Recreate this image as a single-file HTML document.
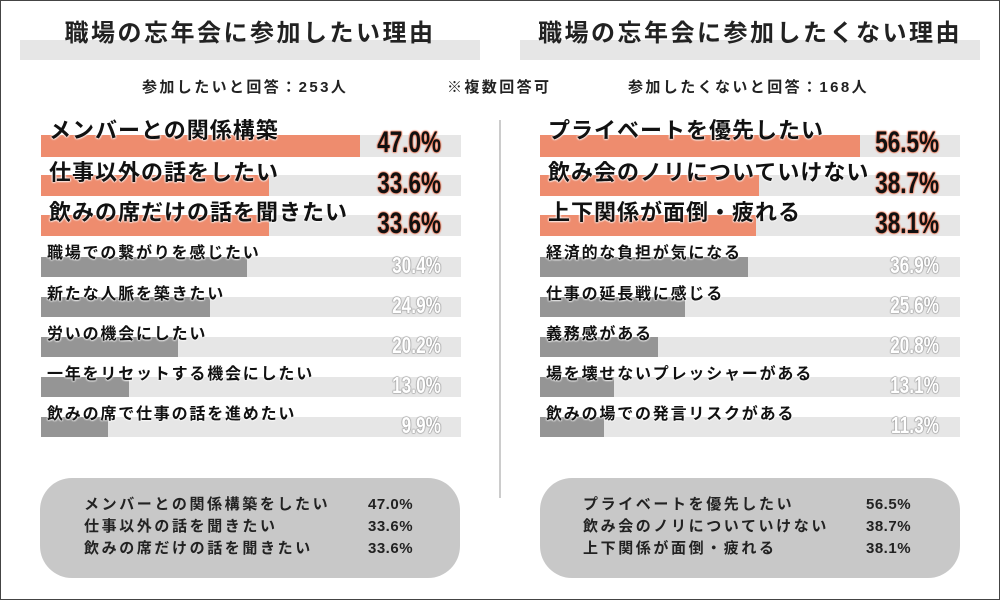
<!DOCTYPE html>
<html><head><meta charset="utf-8"><style>
*{margin:0;padding:0;box-sizing:border-box}
body{width:1000px;height:600px;background:#fff;position:relative;overflow:hidden;font-family:"Liberation Sans","Noto Sans CJK JP",sans-serif;color:#222}
.frame{position:absolute;left:0;top:0;width:1000px;height:600px;border:1px solid #444}
.a{position:absolute;white-space:nowrap}
.tb{position:absolute;height:20px;background:#e6e6e6}
.title{position:absolute;font-size:24px;font-weight:bold;text-align:center;width:460px;letter-spacing:2.5px}
.sub{font-size:15px;font-weight:bold;letter-spacing:2.4px}
.trk{position:absolute;background:#e6e6e6}
.bar{position:absolute}
.or{background:#ee8c6e}
.gr{background:#959595}
.lb{position:absolute;white-space:nowrap;font-weight:bold;color:#111;text-shadow:0 0 2px #fff,0 0 2px #fff,0 0 2px #fff}
.big{font-size:22px;letter-spacing:1px}
.sm{font-size:16px;letter-spacing:1.8px}
.pc{position:absolute;white-space:nowrap;font-family:"Liberation Sans Narrow","Liberation Sans",sans-serif;font-weight:bold;text-align:right;width:120px;transform-origin:right center}
.pb{font-size:30px;color:#111;text-shadow:0 0 2px #ee6a45,0 0 2px #ee6a45,0 0 2px #ee6a45;transform:scaleX(0.75)}
.ps{font-size:23px;color:#fff;text-shadow:0 0 1.5px #999,0 0 1.5px #999,0 0 1.5px #999,0 0 1.5px #999;transform:scaleX(0.75)}
.box{position:absolute;background:#c8c8c8;border-radius:32px}
.bx{position:absolute;font-size:15px;line-height:22px;color:#222;white-space:nowrap;letter-spacing:2.6px;font-weight:bold}
.bn{letter-spacing:0.5px}
</style></head><body>
<div class="frame"></div>

<div class="tb" style="left:20px;top:40px;width:460px"></div>
<div class="tb" style="left:520px;top:40px;width:460px"></div>
<div class="title" style="left:20px;top:13px">職場の忘年会に参加したい理由</div>
<div class="title" style="left:520px;top:13px">職場の忘年会に参加したくない理由</div>
<div class="a sub" style="left:142px;top:76px">参加したいと回答：253人</div>
<div class="a sub" style="left:447px;top:76px">※複数回答可</div>
<div class="a sub" style="left:628px;top:76px">参加したくないと回答：168人</div>

<div style="position:absolute;left:499px;top:120px;width:2px;height:378px;background:#ccc"></div>

<!-- left -->
<div class="trk" style="left:41px;top:135px;width:420px;height:22px"></div><div class="bar or" style="left:41px;top:135px;width:319px;height:22px"></div>
<div class="trk" style="left:41px;top:175px;width:420px;height:21px"></div><div class="bar or" style="left:41px;top:175px;width:228px;height:21px"></div>
<div class="trk" style="left:41px;top:215px;width:420px;height:21px"></div><div class="bar or" style="left:41px;top:215px;width:228px;height:21px"></div>
<div class="trk" style="left:41px;top:257px;width:420px;height:20px"></div><div class="bar gr" style="left:41px;top:257px;width:206px;height:20px"></div>
<div class="trk" style="left:41px;top:297px;width:420px;height:20px"></div><div class="bar gr" style="left:41px;top:297px;width:169px;height:20px"></div>
<div class="trk" style="left:41px;top:337px;width:420px;height:20px"></div><div class="bar gr" style="left:41px;top:337px;width:137px;height:20px"></div>
<div class="trk" style="left:41px;top:377px;width:420px;height:20px"></div><div class="bar gr" style="left:41px;top:377px;width:88px;height:20px"></div>
<div class="trk" style="left:41px;top:417px;width:420px;height:20px"></div><div class="bar gr" style="left:41px;top:417px;width:67px;height:20px"></div>

<div class="lb big" style="left:49px;top:113px">メンバーとの関係構築</div>
<div class="lb big" style="left:49px;top:155px">仕事以外の話をしたい</div>
<div class="lb big" style="left:49px;top:195px">飲みの席だけの話を聞きたい</div>
<div class="lb sm" style="left:47px;top:239px">職場での繋がりを感じたい</div>
<div class="lb sm" style="left:47px;top:280px">新たな人脈を築きたい</div>
<div class="lb sm" style="left:47px;top:320px">労いの機会にしたい</div>
<div class="lb sm" style="left:47px;top:360px">一年をリセットする機会にしたい</div>
<div class="lb sm" style="left:47px;top:400px">飲みの席で仕事の話を進めたい</div>

<div class="pc pb" style="left:321px;top:126px">47.0%</div>
<div class="pc pb" style="left:321px;top:167px">33.6%</div>
<div class="pc pb" style="left:321px;top:207px">33.6%</div>
<div class="pc ps" style="left:321px;top:252px">30.4%</div>
<div class="pc ps" style="left:321px;top:292px">24.9%</div>
<div class="pc ps" style="left:321px;top:332px">20.2%</div>
<div class="pc ps" style="left:321px;top:372px">13.0%</div>
<div class="pc ps" style="left:321px;top:412px">9.9%</div>

<!-- right -->
<div class="trk" style="left:540px;top:135px;width:420px;height:22px"></div><div class="bar or" style="left:540px;top:135px;width:320px;height:22px"></div>
<div class="trk" style="left:540px;top:175px;width:420px;height:21px"></div><div class="bar or" style="left:540px;top:175px;width:219px;height:21px"></div>
<div class="trk" style="left:540px;top:215px;width:420px;height:21px"></div><div class="bar or" style="left:540px;top:215px;width:216px;height:21px"></div>
<div class="trk" style="left:540px;top:257px;width:420px;height:20px"></div><div class="bar gr" style="left:540px;top:257px;width:208px;height:20px"></div>
<div class="trk" style="left:540px;top:297px;width:420px;height:20px"></div><div class="bar gr" style="left:540px;top:297px;width:145px;height:20px"></div>
<div class="trk" style="left:540px;top:337px;width:420px;height:20px"></div><div class="bar gr" style="left:540px;top:337px;width:118px;height:20px"></div>
<div class="trk" style="left:540px;top:377px;width:420px;height:20px"></div><div class="bar gr" style="left:540px;top:377px;width:74px;height:20px"></div>
<div class="trk" style="left:540px;top:417px;width:420px;height:20px"></div><div class="bar gr" style="left:540px;top:417px;width:64px;height:20px"></div>

<div class="lb big" style="left:548px;top:113px">プライベートを優先したい</div>
<div class="lb big" style="left:548px;top:155px">飲み会のノリについていけない</div>
<div class="lb big" style="left:548px;top:195px">上下関係が面倒・疲れる</div>
<div class="lb sm" style="left:546px;top:239px">経済的な負担が気になる</div>
<div class="lb sm" style="left:546px;top:280px">仕事の延長戦に感じる</div>
<div class="lb sm" style="left:546px;top:320px">義務感がある</div>
<div class="lb sm" style="left:546px;top:360px">場を壊せないプレッシャーがある</div>
<div class="lb sm" style="left:546px;top:400px">飲みの場での発言リスクがある</div>

<div class="pc pb" style="left:819px;top:126px">56.5%</div>
<div class="pc pb" style="left:819px;top:167px">38.7%</div>
<div class="pc pb" style="left:819px;top:207px">38.1%</div>
<div class="pc ps" style="left:819px;top:252px">36.9%</div>
<div class="pc ps" style="left:819px;top:292px">25.6%</div>
<div class="pc ps" style="left:819px;top:332px">20.8%</div>
<div class="pc ps" style="left:819px;top:372px">13.1%</div>
<div class="pc ps" style="left:819px;top:412px">11.3%</div>

<!-- summary -->
<div class="box" style="left:40px;top:478px;width:420px;height:100px"></div>
<div class="bx" style="left:84px;top:494px">メンバーとの関係構築をしたい<br>仕事以外の話を聞きたい<br>飲みの席だけの話を聞きたい</div>
<div class="bx bn" style="left:368px;top:494px">47.0%<br>33.6%<br>33.6%</div>
<div class="box" style="left:540px;top:478px;width:420px;height:100px"></div>
<div class="bx" style="left:583px;top:494px">プライベートを優先したい<br>飲み会のノリについていけない<br>上下関係が面倒・疲れる</div>
<div class="bx bn" style="left:866px;top:494px">56.5%<br>38.7%<br>38.1%</div>
</body></html>
